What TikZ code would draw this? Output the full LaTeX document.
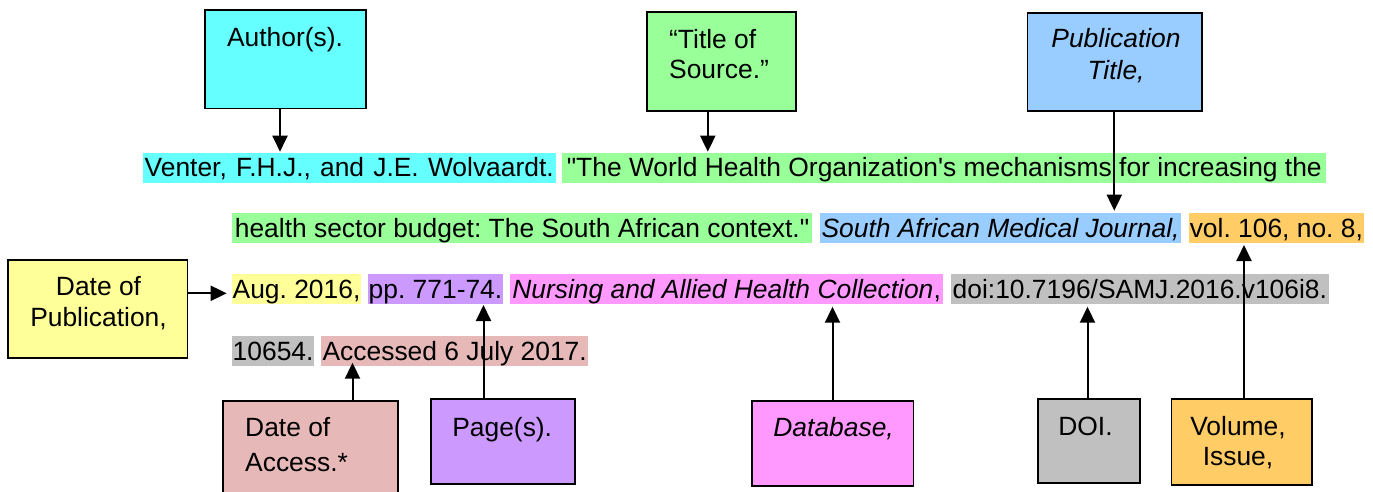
\documentclass[tikz,border=0pt]{standalone}
\usepackage{fontspec}
\setmainfont{Liberation Sans}
\usetikzlibrary{arrows.meta}
\frenchspacing
\definecolor{cCyan}{HTML}{66FFFF}
\definecolor{cGreen}{HTML}{99FF99}
\definecolor{cBlue}{HTML}{99CCFF}
\definecolor{cOrange}{HTML}{FFCC66}
\definecolor{cYellow}{HTML}{FFFF99}
\definecolor{cPurple}{HTML}{CC99FF}
\definecolor{cPink}{HTML}{FF99FF}
\definecolor{cGray}{HTML}{C0C0C0}
\definecolor{cRose}{HTML}{E6B9B8}
\tikzset{
  box/.style={draw=black, line width=1.8pt, inner sep=0pt},
  hl/.style={inner sep=0pt, text height=24pt, text depth=6pt, anchor=base west},
  lbl/.style={inner sep=0pt, anchor=base},
  lbll/.style={inner sep=0pt, anchor=base west},
  arr/.style={line width=2pt, -{Triangle[length=16pt,width=15pt]}}
}
\begin{document}
\begin{tikzpicture}[x=1pt,y=-1pt,font=\fontsize{26.4}{31}\selectfont\frenchspacing]
\useasboundingbox (0,0) rectangle (1373,491);
\clip (0,0) rectangle (1373,491);

% ---------- highlighted citation text ----------
\node[hl, fill=cCyan,   minimum width=413pt] (s1) at (142.5,176.7) {\makebox[409pt][s]{Venter, F.H.J., and J.E. Wolvaardt.}};
\node[hl, fill=cGreen,  minimum width=764.2pt] (s2) at (562,176.7) {\textquotedbl The World Health Organization\textquotesingle s mechanisms for increasing the};

\node[hl, fill=cGreen,  minimum width=579.7pt] (s3) at (232,237.3) {health sector budget: The South African context.\textquotedbl};
\node[hl, fill=cBlue,   minimum width=361.3pt] (s4) at (819.7,237.3) {\itshape South African Medical Journal,};
\node[hl, fill=cOrange, minimum width=174.3pt] (s5) at (1189,237.3) {vol. 106, no. 8,};

\node[hl, fill=cYellow, minimum width=128.7pt] (s6) at (232,298.3) {Aug. 2016,};
\node[hl, fill=cPurple, minimum width=134.8pt] (s7) at (367.9,298.3) {pp. 771-74.};
\node[hl, fill=cPink,   minimum width=433.2pt] (s8) at (509.8,298.3) {\textit{Nursing and Allied Health Collection},};
\node[hl, fill=cGray,   minimum width=377.5pt] (s9) at (950.9,298.3) {doi:10.7196/SAMJ.2016.v106i8.};

\node[hl, fill=cGray,   minimum width=81.8pt] (s10) at (232,360) {10654.};
\node[hl, fill=cRose,   minimum width=267pt] (s11) at (321,360) {Accessed 6 July 2017.};

% ---------- boxes ----------
\node[box, fill=cCyan,   minimum width=161pt,   minimum height=98.5pt] (author)   at (285.5,59.25) {};
\node[box, fill=cGreen,  minimum width=149pt,   minimum height=99pt]   (title)    at (721.5,61.2) {};
\node[box, fill=cBlue,   minimum width=174.5pt, minimum height=97.7pt] (pub)      at (1114.75,62.15) {};
\node[box, fill=cYellow, minimum width=179.5pt, minimum height=98.3pt] (datepub)  at (97.75,309.15) {};
\node[box, fill=cRose,   minimum width=175pt,   minimum height=99pt]   (access)   at (310.8,450.5) {};
\node[box, fill=cPurple, minimum width=143.8pt, minimum height=84.7pt] (pages)    at (502.7,441.65) {};
\node[box, fill=cPink,   minimum width=161.4pt, minimum height=85pt]   (database) at (832.7,443.5) {};
\node[box, fill=cGray,   minimum width=101.6pt, minimum height=84pt]   (doi)      at (1088.8,441.3) {};
\node[box, fill=cOrange, minimum width=140.5pt, minimum height=85.7pt] (volume)   at (1241.75,442.15) {};

% ---------- box labels ----------
\node[lbl]  (la)  at (285,46.7) {Author(s).};
\node[lbll] (lt1) at (669,48) {“Title of};
\node[lbll] (lt2) at (669,78) {Source.”};
\node[lbl]  (lp1) at (1116,47.7) {\itshape Publication};
\node[lbl]  (lp2) at (1116,79) {\itshape Title,};
\node[lbl]  (ld1) at (98.5,295) {Date of};
\node[lbl]  (ld2) at (98.5,326.7) {Publication,};
\node[lbll] (lx1) at (245,436.7) {Date of};
\node[lbll] (lx2) at (245,471.7) {Access.*};
\node[lbl]  (lg)  at (502.2,436.7) {Page(s).};
\node[lbl]  (ldb) at (833.6,436.7) {\itshape Database,};
\node[lbl]  (lo)  at (1085.5,435) {DOI.};
\node[lbl]  (lv1) at (1238,435) {Volume,};
\node[lbl]  (lv2) at (1238,465) {Issue,};

% ---------- arrows ----------
\coordinate (tA) at (280,151.7);
\coordinate (tT) at (707.8,151.7);
\coordinate (tP) at (1114.3,210.7);
\coordinate (tD) at (226.7,293.3);
\coordinate (tX) at (352.5,362.7);
\coordinate (tG) at (483.5,305);
\coordinate (tB) at (832.5,306.7);
\coordinate (tO) at (1087.5,306.7);
\coordinate (tV) at (1244,245);

\draw[arr] (tA |- author.south) -- (tA);
\draw[arr] (tT |- title.south) -- (tT);
\draw[arr] (tP |- pub.south) -- (tP);
\draw[arr] (datepub.east |- tD) -- (tD);
\draw[arr] (tX |- access.north) -- (tX);
\draw[arr] (tG |- pages.north) -- (tG);
\draw[arr] (tB |- database.north) -- (tB);
\draw[arr] (tO |- doi.north) -- (tO);
\draw[arr] (tV |- volume.north) -- (tV);
\end{tikzpicture}
\end{document}
